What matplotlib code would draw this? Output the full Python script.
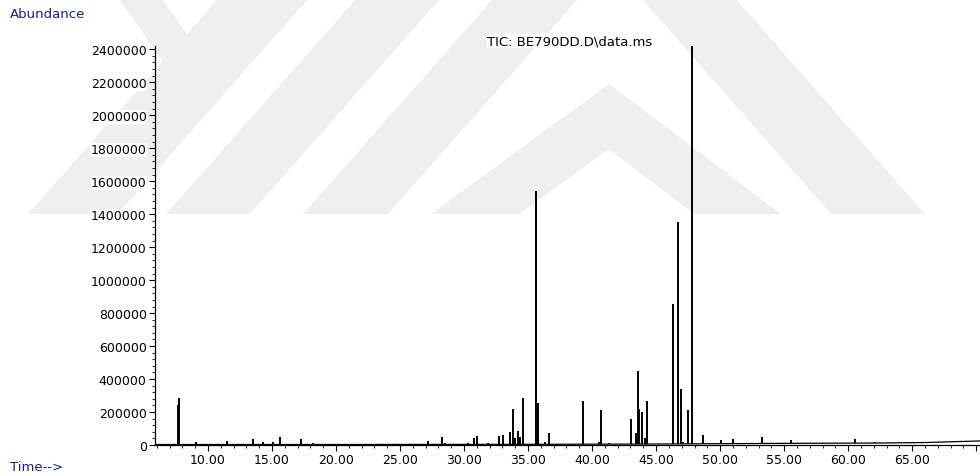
import matplotlib
matplotlib.use("Agg")
import matplotlib.pyplot as plt
import numpy as np
from matplotlib.patches import Polygon

# ---------------- data ----------------
peak_times = [7.62, 7.70, 9.1, 11.5, 13.5, 14.3, 15.1, 15.6, 17.3, 18.2,
              27.2, 28.25, 28.5, 30.3, 30.8, 31.0, 31.9, 32.7, 33.05, 33.55,
              33.8, 34.0, 34.25, 34.4, 34.6, 35.6, 35.75, 36.3, 36.6,
              39.27, 40.55, 40.68, 41.3, 43.05, 43.4, 43.6, 43.7, 43.9, 44.1,
              44.3, 46.3, 46.7, 46.95, 47.1, 47.5, 47.8, 48.7, 50.1, 51.0,
              53.3, 53.8, 55.5, 60.5, 62.1]
peak_heights = [240000, 285000, 20000, 26000, 34000, 20000, 20000, 46000, 36000, 14000,
                26000, 50000, 15000, 12000, 40000, 56000, 15000, 55000, 60000, 80000,
                220000, 40000, 87000, 50000, 287000, 1540000, 255000, 20000, 70000,
                265000, 20000, 210000, 12000, 160000, 70000, 450000, 220000, 200000, 40000,
                265000, 855000, 1350000, 340000, 20000, 215000, 2420000, 60000, 28000, 36000,
                50000, 12000, 30000, 36000, 18000]
baseline_times = [5.8, 20.0, 35.0, 45.0, 55.0, 62.0, 66.0, 70.5]
baseline_values = [3000, 3000, 4000, 6000, 10000, 12000, 15000, 25000]

y_ticks = list(range(0, 2400001, 200000))
x_ticks = [10, 15, 20, 25, 30, 35, 40, 45, 50, 55, 60, 65, 70]
x_tick_labels = ["10.00", "15.00", "20.00", "25.00", "30.00", "35.00", "40.00",
                 "45.00", "50.00", "55.00", "60.00", "65.00", ""]

title = "TIC: BE790DD.D\\data.ms"

# ---------------- figure ----------------
W, H = 980, 477
fig = plt.figure(figsize=(W / 100, H / 100), dpi=100)
fig.patch.set_facecolor("white")

# watermark (light grey chevrons), pixel coords from top-left
def px(pts):
    return [(x / W, 1 - y / H) for x, y in pts]

wm = [
    [(28, 215), (118, 215), (308, 0), (218, 0)],
    [(119, 0), (162, 0), (215, 75), (172, 75)],
    [(166, 215), (250, 215), (440, 0), (356, 0)],
    [(303, 215), (388, 215), (578, 0), (493, 0)],
    [(831, 215), (925, 215), (736, 0), (642, 0)],
    [(431, 215), (609, 85), (781, 215), (694, 215), (609, 150), (519, 215)],
]
for poly in wm:
    fig.patches.append(Polygon(px(poly), closed=True, transform=fig.transFigure,
                               facecolor="#efefef", edgecolor="none", zorder=-10))

ax = fig.add_axes([155 / W, 31 / H, 825 / W, 399 / H])
ax.set_zorder(5)
ax.patch.set_alpha(0)

bt = np.array(baseline_times)
bv = np.array(baseline_values)
ax.plot(bt, bv, color="black", lw=0.9, zorder=3)
base_at_peak = np.interp(peak_times, bt, bv)
ax.vlines(peak_times, base_at_peak, peak_heights, color="black", lw=1.4, zorder=3)

ax.set_xlim(5.86, 70.3)
ax.set_ylim(0, 2420000)

for s in ("top", "right"):
    ax.spines[s].set_visible(False)
for s in ("left", "bottom"):
    ax.spines[s].set_linewidth(0.9)
    ax.spines[s].set_color("black")

ax.set_yticks(y_ticks)
ax.set_yticklabels([str(v) for v in y_ticks])
ax.set_yticks(np.arange(0, 2400001, 40000), minor=True)
ax.set_xticks(x_ticks)
ax.set_xticklabels(x_tick_labels)
ax.set_xticks(np.arange(6, 71, 1), minor=True)

ax.tick_params(axis="both", which="major", direction="out", length=4, width=0.8,
               labelsize=9, colors="black", pad=2)
ax.tick_params(axis="both", which="minor", direction="out", length=2, width=0.6)

for lab in ax.get_yticklabels() + ax.get_xticklabels():
    lab.set_bbox(dict(facecolor="white", edgecolor="none", pad=0.3))

fig.text(10 / W, 1 - 14 / H, "Abundance", color="#1c1c8c", fontsize=9.5,
         ha="left", va="center", zorder=6)
fig.text(10 / W, 1 - 468 / H, "Time-->", color="#1c1c8c", fontsize=9.5,
         ha="left", va="center", zorder=6)
fig.text(487 / W, 1 - 42 / H, title, color="black", fontsize=9.5,
         ha="left", va="center", zorder=6,
         bbox=dict(facecolor="white", edgecolor="none", pad=0.3))

fig.savefig("out.png", dpi=100, facecolor="white")
